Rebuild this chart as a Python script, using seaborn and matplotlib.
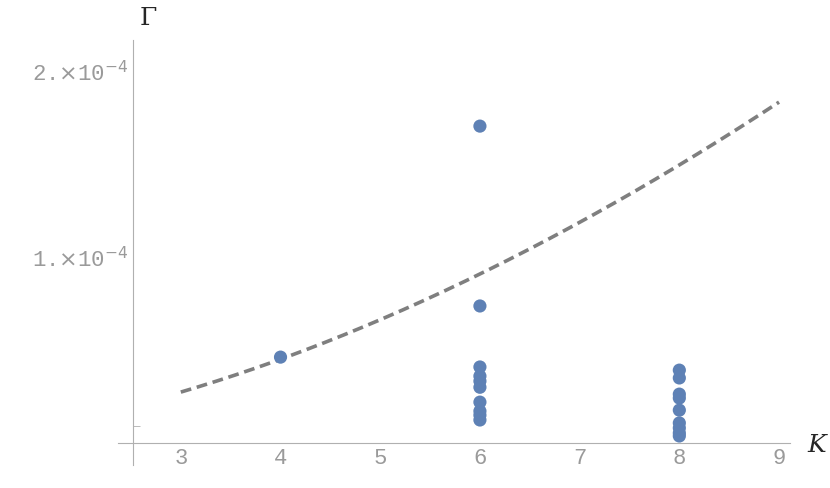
import numpy as np
import pandas as pd
import matplotlib
matplotlib.use("Agg")
import matplotlib.pyplot as plt
import seaborn as sns

K_pts = [4, 6, 6, 6, 6, 6, 6, 6, 6, 6, 6, 8, 8, 8, 8, 8, 8, 8, 8, 8]
G_pts = [0.462, 1.704, 0.737, 0.409, 0.36, 0.333, 0.30, 0.22, 0.172, 0.15, 0.124,
         0.392, 0.35, 0.263, 0.242, 0.177, 0.108, 0.081, 0.054, 0.038]
# fitted curve parameters: Gamma = a * (K/3)^p
fit_a = 0.274e-4
fit_p = 1.73
xticks = [3, 4, 5, 6, 7, 8, 9]

sns.set_style("white")
df = pd.DataFrame({"K": K_pts, "G": np.array(G_pts) * 1e-4})
kk = np.linspace(3, 9, 200)
curve = pd.DataFrame({"K": kk, "G": fit_a * (kk / 3) ** fit_p})

fig = plt.figure(figsize=(8.3, 4.88), dpi=100)
ax = fig.add_axes([118/830, 1-465/488, (790-118)/830, (465-40)/488])
sns.lineplot(data=curve, x="K", y="G", ax=ax, color="#7f7f7f", lw=2.6, linestyle=(0, (3, 1.6)))
sns.scatterplot(data=df, x="K", y="G", ax=ax, color="#5e81b5", s=90, edgecolor="none", zorder=3)

ax.set_xlim(2.37, 9.11)
ax.set_ylim(-0.118e-4, 2.167e-4)
for s in ["top", "right"]:
    ax.spines[s].set_visible(False)
ax.spines["bottom"].set_position(("data", 0))
ax.spines["left"].set_position(("data", 2.52))
for s in ["bottom", "left"]:
    ax.spines[s].set_color("#b0b0b0")
ax.set_xticks(xticks)
ax.set_xticklabels([str(t) for t in xticks])
ax.set_yticks([1e-4, 2e-4])
ax.set_yticks([0.09e-4], minor=True)
ax.set_yticklabels([r"1.$\times$10$^{-4}$", r"2.$\times$10$^{-4}$"])
ax.tick_params(axis="both", colors="#b0b0b0", labelcolor="#9a9a9a", labelsize=16,
               length=5, direction="in")
ax.tick_params(axis="y", which="minor", colors="#b0b0b0", length=5, direction="in", left=True)
for lab in ax.get_xticklabels() + ax.get_yticklabels():
    lab.set_family("Liberation Mono")
ax.set_xlabel("")
ax.set_ylabel("")
fig.text(148/830, 1-18/488, r"$\mathit{\Gamma}$", fontsize=18, ha="center", va="center",
         math_fontfamily="dejavuserif")
fig.text(818/830, 1-445/488, r"$K$", fontsize=18, ha="center", va="center",
         math_fontfamily="dejavuserif")
fig.savefig("out.png", dpi=100)
